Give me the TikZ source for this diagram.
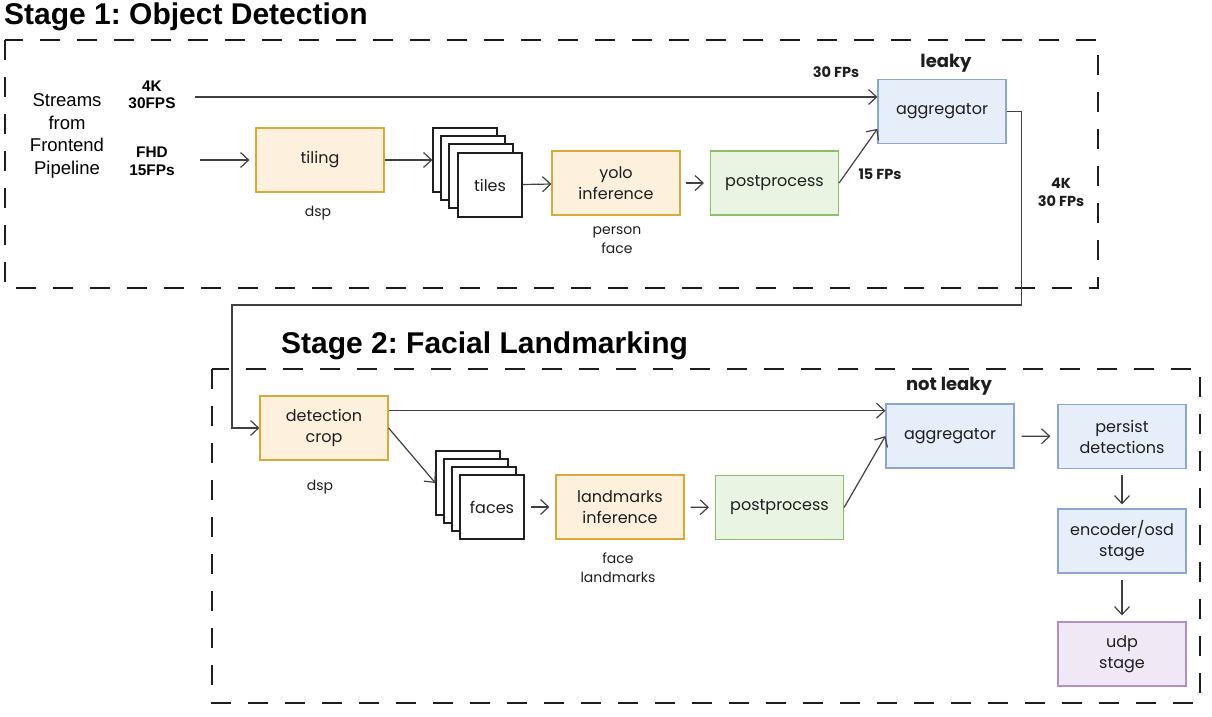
\documentclass[tikz,border=0pt]{standalone}
\usepackage{fontspec}
\setmainfont{Liberation Sans}
\newfontfamily\handfont{Poppins}
\usetikzlibrary{arrows.meta, positioning}
\frenchspacing

\definecolor{ink}{HTML}{1E1E1E}
\definecolor{orangeline}{HTML}{D9A93A}
\definecolor{orangefill}{HTML}{FDF1DE}
\definecolor{greenline}{HTML}{8DBF6A}
\definecolor{greenfill}{HTML}{EAF4E2}
\definecolor{blueline}{HTML}{8AA5D6}
\definecolor{bluefill}{HTML}{E6EEFA}
\definecolor{purpleline}{HTML}{B38FC7}
\definecolor{purplefill}{HTML}{F0E8F4}

\tikzset{
  box/.style={draw, line width=1.2pt, minimum width=128pt, minimum height=64pt, inner sep=2pt, align=center, text=ink, font=\handfont\fontsize{16}{21}\selectfont},
  orangebox/.style={box, draw=orangeline, fill=orangefill},
  greenbox/.style={box, draw=greenline, fill=greenfill},
  bluebox/.style={box, draw=blueline, fill=bluefill},
  purplebox/.style={box, draw=purpleline, fill=purplefill},
  tilebox/.style={draw=ink, fill=white, line width=1.2pt, minimum size=64pt, inner sep=0pt, text=ink, font=\handfont\fontsize{16}{21}\selectfont},
  note/.style={align=center, text=ink, font=\handfont\fontsize{14}{19}\selectfont},
  rate/.style={align=center, text=ink, font=\handfont\bfseries\fontsize{14.5}{18}\selectfont},
  leak/.style={text=ink, font=\handfont\bfseries\fontsize{18}{22}\selectfont},
  arr/.style={->, line width=1.2pt, draw=ink!85},
  stagebox/.style={draw=ink, dash pattern=on 20pt off 17pt, line width=2.2pt}
}

\begin{document}
\begin{tikzpicture}[x=1pt, y=-1pt, >={Straight Barb[length=8pt,width=15pt]}]
\useasboundingbox (0,0) rectangle (1212,716);

\draw [stagebox] (5,40) rectangle (1098,288);
\draw [stagebox] (212,369) rectangle (1200,703);
\node[anchor=west, inner sep=0pt, font=\bfseries\fontsize{30}{34}\selectfont] (titleA) at (4,17) {Stage 1: Object Detection};
\node[anchor=west, inner sep=0pt, font=\bfseries\fontsize{30}{34}\selectfont] (titleB) at (281,346) {Stage 2: Facial Landmarking};

% stage 1
\node[align=center, font=\fontsize{18.5}{22.7}\selectfont] (streams) at (67,136) {Streams\\from\\Frontend\\Pipeline};
\node[align=center, font=\bfseries\fontsize{15.4}{17.5}\selectfont] (fourk) at (152,95) {4K\\30FPS};
\node[align=center, font=\bfseries\fontsize{15.4}{18}\selectfont] (fhd) at (152,161) {FHD\\15FPs};
\coordinate (srcA) at (195,97);
\coordinate (srcB) at (200,160);

\node[orangebox] (tiling) at (320,160) {tiling};
\node[note] (dspA) at (318,213) {dsp};
\foreach \d/\n in {0/a,8/b,16/c} \node[tilebox] (tile\n) at (465+\d,160+\d) {};
\node[tilebox] (tiles) at (490,185) {tiles};
\node[orangebox] (yolo) at (616,183) {yolo\\inference};
\node[note] (classA) at (617,240) {person\\face};
\node[greenbox] (postA) at (774.5,183) {postprocess};
\node[bluebox] (agg) at (942,111.5) {aggregator};
\node[leak] (leaky) at (946,63) {leaky};
\node[rate] (fpsA) at (836,72) {30 FPs};
\node[rate] (fpsB) at (880,174) {15 FPs};
\node[rate] (fpsC) at (1061,192) {4K\\30 FPs};

\draw[arr] (srcA) -- (srcA -| agg.west);
\draw[arr, shorten >=6pt] (srcB) -- (tiling);
\draw[arr] (tiling) -- (tilea);
\draw[arr] (tiles) -- (yolo);
\draw[arr, shorten <=5pt, shorten >=6pt] (yolo) -- (postA);
\draw[arr] (postA.east) -- (agg.195);

% stage 2
\node[orangebox] (crop) at (324,428) {detection\\crop};
\node[note] (dspB) at (320,487) {dsp};
\foreach \d/\n in {0/a,8/b,16/c} \node[tilebox] (face\n) at (468+\d,483+\d) {};
\node[tilebox] (faces) at (492,507) {faces};
\node[orangebox] (lmk) at (620,507) {landmarks\\inference};
\node[note] (classB) at (618,568) {face\\landmarks};
\node[greenbox] (postB) at (779.5,507.5) {postprocess};
\node[bluebox] (aggtwo) at (950,436) {aggregator};
\node[leak] (notleaky) at (949,386) {not leaky};
\node[bluebox] (persist) at (1122,436.5) {persist\\detections};
\node[bluebox] (enc) at (1122,541) {encoder/osd\\stage};
\node[purplebox] (udp) at (1122,654) {udp\\stage};
\coordinate (loop) at (232,305);

\draw[arr] (agg.east) -- ++(15,0) |- (loop) |- (crop.west);
\draw[arr] (crop.15) -- (crop.15 -| aggtwo.west);
\draw[arr] (crop.east) -- (facea.west);
\draw[arr, shorten <=6pt, shorten >=6pt] (faces) -- (lmk);
\draw[arr, shorten <=6pt, shorten >=6pt] (lmk) -- (postB);
\draw[arr] (postB.east) -- (aggtwo.west);
\draw[arr, shorten <=7pt, shorten >=7pt] (aggtwo) -- (persist);
\draw[arr, shorten <=6pt, shorten >=4pt] (persist) -- (enc);
\draw[arr, shorten <=6pt, shorten >=6pt] (enc) -- (udp);
\end{tikzpicture}
\end{document}
